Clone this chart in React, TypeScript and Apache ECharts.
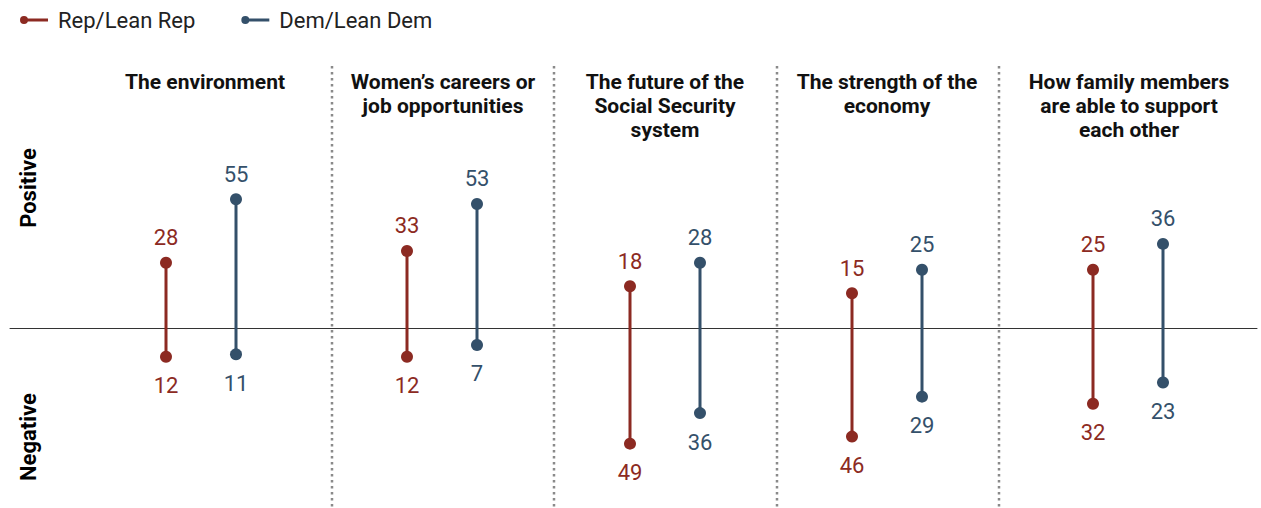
import React, { useEffect, useRef } from "react";
import * as echarts from "echarts";

const topics = [
  "The environment",
  "Women’s careers or\njob opportunities",
  "The future of the\nSocial Security\nsystem",
  "The strength of the\neconomy",
  "How family members\nare able to support\neach other",
];
const parties = ["Rep", "Dem"];
const repPositive = [28, 33, 18, 15, 25];
const repNegative = [12, 12, 49, 46, 32];
const demPositive = [55, 53, 28, 25, 36];
const demNegative = [11, 7, 36, 29, 23];
const seriesNames = ["Rep/Lean Rep", "Dem/Lean Dem"];
const axisLabels = ["Positive", "Negative"];

const REP = "#8C2A22";
const DEM = "#34506A";
const FONT = "Roboto, 'Liberation Sans', Arial, sans-serif";

const gridLefts = [131, 372, 595, 817, 1058];
const titleCenters = [205, 443, 665, 887, 1129];
const dividers = [332, 554, 777, 999];

export default function App() {
  const ref = useRef<HTMLDivElement>(null);
  useEffect(() => {
    document.body.style.margin = "0";
    const chart = echarts.init(ref.current!, null, { renderer: "svg" });
    const grids: any[] = [{ left: 10, right: 4, top: 164, height: 329 }];
    const xAxes: any[] = [
      {
        gridIndex: 0,
        type: "value",
        min: 0,
        max: 1,
        axisLine: { show: true, onZero: true, lineStyle: { color: "#333", width: 1 } },
        axisTick: { show: false },
        axisLabel: { show: false },
        splitLine: { show: false },
      },
    ];
    const yAxes: any[] = [
      { gridIndex: 0, type: "value", min: -70, max: 70, show: false },
    ];
    const series: any[] = [];
    const mkLabel = (color: string) => ({
      show: true,
      color,
      fontSize: 22,
      fontFamily: FONT,
      formatter: (p: any) => String(Math.abs(p.value[1])),
    });
    topics.forEach((_, i) => {
      const g = i + 1;
      grids.push({ left: gridLefts[i], width: 140, top: 164, height: 329 });
      xAxes.push({ gridIndex: g, type: "category", data: parties, boundaryGap: true, show: false });
      yAxes.push({ gridIndex: g, type: "value", min: -70, max: 70, show: false });
      const vals = [
        [repPositive[i], repNegative[i]],
        [demPositive[i], demNegative[i]],
      ];
      [REP, DEM].forEach((color, k) => {
        series.push({
          type: "line",
          name: seriesNames[k],
          xAxisIndex: g,
          yAxisIndex: g,
          symbol: "circle",
          symbolSize: 12,
          color,
          lineStyle: { color, width: 3 },
          itemStyle: { color },
          label: mkLabel(color),
          data: [
            { value: [parties[k], vals[k][0]], label: { position: "top", distance: 8 } },
            { value: [parties[k], -vals[k][1]], label: { position: "bottom", distance: 12 } },
          ],
        });
      });
    });
    const graphics: any[] = [];
    dividers.forEach((x) => {
      graphics.push({
        type: "line",
        shape: { x1: x, y1: 66, x2: x, y2: 508 },
        style: { stroke: "#8a8a8a", lineWidth: 2.5, lineDash: [2.5, 3.5] },
        silent: true,
      });
    });
    topics.forEach((t, i) => {
      graphics.push({
        type: "text",
        x: titleCenters[i],
        y: 70,
        style: {
          text: t,
          fill: "#111",
          font: `bold 21px ${FONT}`,
          align: "center",
          verticalAlign: "top",
          lineHeight: 24,
        },
      });
    });
    graphics.push({
      type: "text",
      x: 28,
      y: 188,
      rotation: Math.PI / 2,
      style: { text: axisLabels[0], fill: "#000", font: `bold 22px ${FONT}`, align: "center", verticalAlign: "middle" },
    });
    graphics.push({
      type: "text",
      x: 28,
      y: 437,
      rotation: Math.PI / 2,
      style: { text: axisLabels[1], fill: "#000", font: `bold 22px ${FONT}`, align: "center", verticalAlign: "middle" },
    });
    chart.setOption({
      animation: false,
      legend: {
        left: 20,
        top: 9,
        padding: 0,
        itemWidth: 28,
        itemHeight: 8,
        itemGap: 46,
        icon: "path://M0,4 A4,4 0 1,1 8,4 A4,4 0 1,1 0,4 Z M6,2.6 L28,2.6 L28,5.4 L6,5.4 Z",
        textStyle: { fontSize: 22, color: "#222", fontFamily: FONT, padding: [0, 0, 0, 5] },
        data: seriesNames,
      },
      grid: grids,
      xAxis: xAxes,
      yAxis: yAxes,
      series,
      graphic: graphics,
    });
    return () => chart.dispose();
  }, []);
  return <div ref={ref} style={{ width: 1261, height: 508 }} />;
}
